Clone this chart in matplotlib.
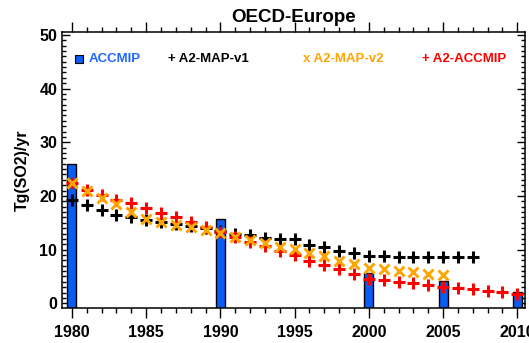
import numpy as np
import matplotlib
matplotlib.use("Agg")
import matplotlib.pyplot as plt
from matplotlib.ticker import MultipleLocator

plt.rcParams['font.family'] = ['Liberation Sans', 'DejaVu Sans']
plt.rcParams['font.weight'] = 'bold'

# ACCMIP decadal / 5-yearly emissions (bars)
bar_years = [1980, 1990, 2000, 2005, 2010]
accmip = [26.0, 15.7, 5.7, 4.2, 2.1]

# A2-MAP-v1, 1980-2007
v1_years = list(range(1980, 2008))
map_v1 = [19.2, 18.3, 17.3, 16.5, 16.0, 15.6, 15.2, 14.8, 14.4, 14.0,
          13.5, 13.0, 12.7, 12.2, 12.05, 11.95, 10.9, 10.4, 9.8, 9.3,
          8.9, 8.8, 8.7, 8.7, 8.7, 8.7, 8.7, 8.7]

# A2-MAP-v2, 1980-2005
v2_years = list(range(1980, 2006))
map_v2 = [22.4, 21.0, 19.7, 18.5, 17.0, 15.7, 15.1, 14.6, 14.15, 13.7,
          13.1, 12.4, 11.75, 11.2, 10.5, 10.1, 9.4, 8.8, 7.95, 7.25,
          6.65, 6.3, 6.1, 5.85, 5.4, 5.3]

# A2-ACCMIP, 1980-2010
a2_years = list(range(1980, 2011))
a2_accmip = [22.4, 21.05, 20.2, 19.2, 18.7, 17.75, 16.85, 16.0, 15.2, 14.3,
             13.35, 12.3, 11.5, 10.7, 9.8, 9.0, 7.9, 7.1, 6.4, 5.4,
             4.5, 4.35, 4.0, 3.75, 3.4, 3.1, 2.9, 2.6, 2.35, 2.05, 1.7]

blue = '#0a5cf5'
orange = '#ffa500'
red = '#ff0000'

ymin, ymax = -0.88, 50.6

fig = plt.figure(figsize=(5.29, 3.43), dpi=100)
ax = fig.add_axes([62/529, 1 - 308/343, 463/529, 276.3/343])

# bars rise from the bottom of the frame up to their value
ax.bar(bar_years, np.array(accmip) - ymin, bottom=ymin, width=0.6, color=blue,
       edgecolor='black', linewidth=1.0, zorder=2)
ax.plot(v1_years, map_v1, ls='none', marker='+', ms=8, mew=2.2, color='black', zorder=3)
ax.plot(a2_years, a2_accmip, ls='none', marker='+', ms=8, mew=2.2, color=red, zorder=4)
ax.plot(v2_years, map_v2, ls='none', marker='x', ms=7, mew=2.1, color=orange, zorder=5)

ax.set_xlim(1979.33, 2010.52)
ax.set_ylim(ymin, ymax)

ax.xaxis.set_major_locator(MultipleLocator(5))
ax.xaxis.set_minor_locator(MultipleLocator(1))
ax.yaxis.set_major_locator(MultipleLocator(10))
ax.yaxis.set_minor_locator(MultipleLocator(1))

ax.tick_params(axis='x', which='both', direction='out', top=True, bottom=True, width=1.0)
ax.tick_params(axis='x', which='major', length=7, pad=5, labelsize=11.5)
ax.tick_params(axis='x', which='minor', length=3.5)
ax.tick_params(axis='y', which='both', direction='in', left=True, right=True, width=1.0)
ax.tick_params(axis='y', which='major', length=6, pad=3.5, labelsize=11.5)
ax.tick_params(axis='y', which='minor', length=3)
for lab in ax.get_xticklabels() + ax.get_yticklabels():
    lab.set_fontweight('bold')
for sp in ax.spines.values():
    sp.set_linewidth(1.1)

ax.text(0.5, 1 + 10/276.3, 'OECD-Europe', transform=ax.transAxes,
        ha='center', va='baseline', fontsize=13.5, fontweight='bold')
fig.text(22.5/529, 1 - 170/343, 'Tg(SO2)/yr', rotation=90, ha='center', va='center',
         fontsize=11.5, fontweight='bold')

# legend row
ly = (308 - 59) / 276.3
ax.plot([17/463], [ly], transform=ax.transAxes, marker='s', ms=6, color=blue,
        mec='black', mew=0.8, ls='none', clip_on=False)
legend_items = [('ACCMIP', '#1f66ff', 27/463),
                ('+ A2-MAP-v1', 'black', 106/463),
                ('x A2-MAP-v2', orange, 240.7/463),
                ('+ A2-ACCMIP', red, 359.7/463)]
for txt, col, lx in legend_items:
    ax.text(lx, ly, txt, transform=ax.transAxes, color=col, ha='left', va='center',
            fontsize=9.5, fontweight='bold')

fig.savefig('out.png', dpi=100)
